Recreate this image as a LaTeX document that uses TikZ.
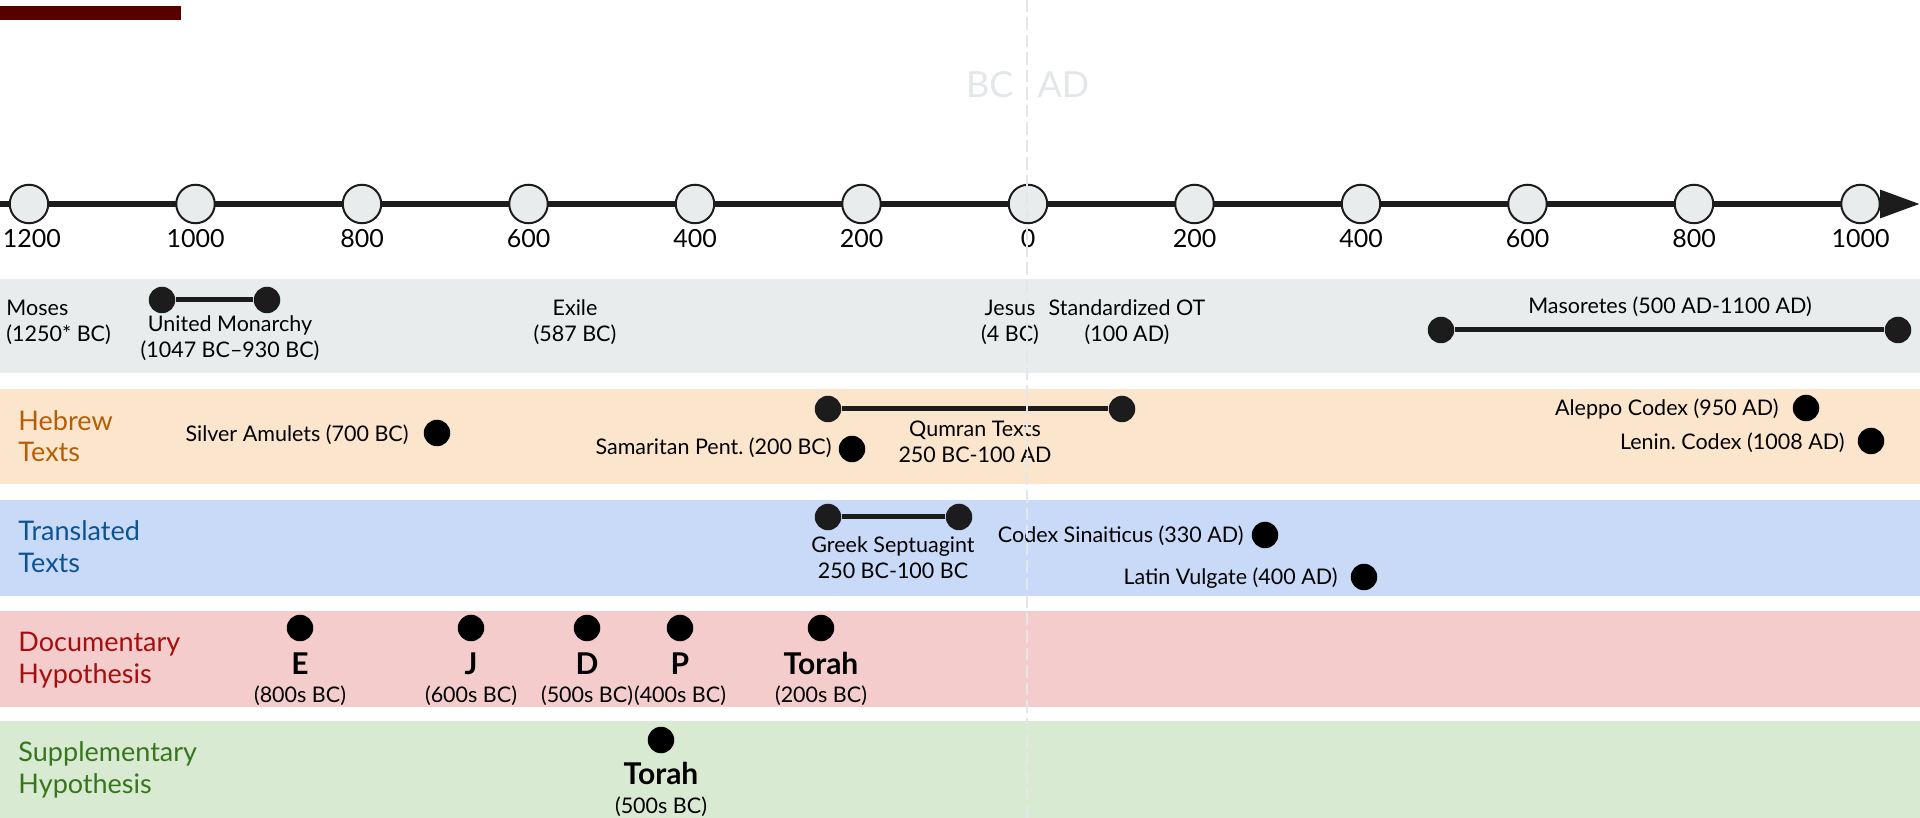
\documentclass[tikz,border=0pt]{standalone}
\usepackage{fontspec}
\setmainfont{Lato}
\frenchspacing
\usetikzlibrary{arrows.meta}
\definecolor{maroon}{HTML}{560000}
\definecolor{axisline}{HTML}{1C1C1C}
\definecolor{tickfill}{HTML}{E8ECEC}
\definecolor{faint}{HTML}{E3E7E9}
\definecolor{greyband}{HTML}{E8ECEC}
\definecolor{orangeband}{HTML}{FCE5CD}
\definecolor{blueband}{HTML}{C9DAF8}
\definecolor{redband}{HTML}{F4CCCC}
\definecolor{greenband}{HTML}{D9EAD3}
\definecolor{hebrewtxt}{HTML}{B45F06}
\definecolor{translatedtxt}{HTML}{0B5394}
\definecolor{documentarytxt}{HTML}{A50E0E}
\definecolor{supplementarytxt}{HTML}{38761D}

\begin{document}
\begin{tikzpicture}[x=0.4pt,y=-0.4pt,
  tick/.style={circle,draw=axisline,line width=0.8pt,fill=tickfill,minimum size=15.4pt,inner sep=0pt},
  ticklabel/.style={anchor=base,inner sep=0pt,font=\fontsize{10}{12}\selectfont},
  dot/.style={circle,fill=black,minimum size=10.6pt,inner sep=0pt},
  enddot/.style={dot,fill=axisline},
  span/.style={draw=axisline,line width=2pt},
  event/.style={inner sep=0pt,align=center,font=\fontsize{8.6}{10.4}\selectfont},
  source/.style={anchor=base,inner sep=0pt,font=\fontsize{12}{14}\selectfont\bfseries},
  bandlabel/.style={anchor=base west,inner sep=0pt,align=left,font=\fontsize{10.8}{12.6}\selectfont}]
  \useasboundingbox (0,0) rectangle (1920,818);

  \fill[greyband] (0,279) rectangle (1920,373);
  \fill[orangeband] (0,389) rectangle (1920,484);
  \fill[blueband] (0,500) rectangle (1920,596);
  \fill[redband] (0,611) rectangle (1920,707);
  \fill[greenband] (0,721) rectangle (1920,818);
  \fill[maroon] (0,6) rectangle (181,20);

  \node[anchor=base east,inner sep=0pt,text=faint,font=\fontsize{14.4}{17}\selectfont] (bc) at (1014,98) {BC};
  \node[anchor=base west,inner sep=0pt,text=faint,font=\fontsize{14.4}{17}\selectfont] (ad) at (1037,98) {AD};

  \coordinate (axisstart) at (0,204);
  \coordinate (axisend) at (1920,204);
  \draw[axisline,line width=2.5pt,-{Triangle[length=16pt,width=10.8pt]}] (axisstart) -- (axisend);
  \foreach \yr [count=\i from 0] in {1200,1000,800,600,400,200,0,200,400,600,800,1000} {
    \node[tick] (tick\i) at ({29+166.5*\i},204) {};
    \node[ticklabel] (year\i) at ({29+166.5*\i+(\i==0)*3},248) {\yr};
  }

  \node[event,anchor=base west,align=left] (moses) at (6,342) {Moses\\(1250* BC)};
  \node[enddot] (monarchyA) at (162,300) {};
  \node[enddot] (monarchyB) at (267,300) {};
  \draw[span] (monarchyA) -- (monarchyB);
  \node[event,anchor=base] (monarchy) at (230,358) {United Monarchy\\(1047 BC--930 BC)};
  \node[event,anchor=base] (exile) at (575,342) {Exile\\(587 BC)};
  \node[event,anchor=base] (jesus) at (1010,342) {Jesus\\(4 BC)};
  \node[event,anchor=base] (standard) at (1127,342) {Standardized OT\\(100 AD)};
  \node[enddot] (masoretesA) at (1441,330) {};
  \node[enddot] (masoretesB) at (1898,330) {};
  \draw[span] (masoretesA) -- (masoretesB);
  \node[event,anchor=base] (masoretes) at (1670,314) {Masoretes (500 AD-1100 AD)};

  \node[bandlabel,text=hebrewtxt] (hebrew) at (18,462) {Hebrew\\Texts};
  \node[dot] (amuletsdot) at (437,433) {};
  \node[event,anchor=base east] (amulets) at (409,442) {Silver Amulets (700 BC)};
  \node[dot] (samaritandot) at (852,449) {};
  \node[event,anchor=base east] (samaritan) at (832,455) {Samaritan Pent. (200 BC)};
  \node[enddot] (qumranA) at (828,409) {};
  \node[enddot] (qumranB) at (1122,409) {};
  \draw[span] (qumranA) -- (qumranB);
  \node[event,anchor=base] (qumran) at (975,463) {Qumran Texts\\250 BC-100 AD};
  \node[dot] (aleppodot) at (1806,408) {};
  \node[event,anchor=base east] (aleppo) at (1779,416) {Aleppo Codex (950 AD)};
  \node[dot] (lenindot) at (1871,441) {};
  \node[event,anchor=base east] (lenin) at (1845,450) {Lenin. Codex (1008 AD)};

  \node[bandlabel,text=translatedtxt] (translated) at (18,572) {Translated\\Texts};
  \node[enddot] (septuagintA) at (828,517) {};
  \node[enddot] (septuagintB) at (959,517) {};
  \draw[span] (septuagintA) -- (septuagintB);
  \node[event,anchor=base] (septuagint) at (893,578) {Greek Septuagint\\250 BC-100 BC};
  \node[dot] (sinaiticusdot) at (1265,535) {};
  \node[event,anchor=base east] (sinaiticus) at (1244,543) {Codex Sinaiticus (330 AD)};
  \node[dot] (vulgatedot) at (1364,577) {};
  \node[event,anchor=base east] (vulgate) at (1338,584) {Latin Vulgate (400 AD)};

  \node[bandlabel,text=documentarytxt] (documentary) at (18,683) {Documentary\\Hypothesis};
  \foreach \src/\when/\x in {E/800s/300,J/600s/471,D/500s/587,P/400s/680,Torah/200s/821} {
    \node[dot] (\src dot) at (\x,628) {};
    \node[source] (\src) at (\x,674) {\src};
    \node[event,anchor=base] (\src date) at (\x,702) {(\when\ BC)};
  }

  \node[bandlabel,text=supplementarytxt] (supplementary) at (18,793) {Supplementary\\Hypothesis};
  \node[dot] (torahdot) at (661,740) {};
  \node[source] (torah) at (661,784) {Torah};
  \node[event,anchor=base] (torahdate) at (661,813) {(500s BC)};

  \coordinate (zerotop) at (1027,0);
  \coordinate (zerobottom) at (1027,818);
  \draw[faint,line width=1pt,dash pattern=on 5pt off 2pt] (zerotop) -- (zerobottom);
\end{tikzpicture}
\end{document}
